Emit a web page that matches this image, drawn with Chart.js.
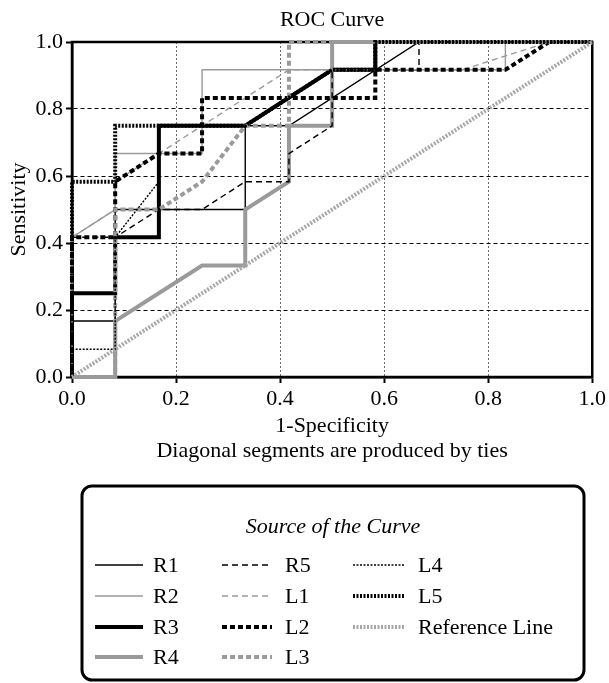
<!DOCTYPE html>
<html>
<head>
<meta charset="utf-8">
<script src="https://cdn.jsdelivr.net/npm/chart.js@4.4.1/dist/chart.umd.min.js"></script>
<style>
  html, body { margin: 0; padding: 0; background: #fff; }
  #roc { display: block; }
</style>
</head>
<body>
<canvas id="roc" width="609" height="683"></canvas>
<script>
// ROC points (1-specificity / sensitivity)
const R1_fpr = [0, 0, 0.083, 0.083, 0.333, 0.333, 0.417, 0.667, 1];
const R1_tpr = [0, 0.167, 0.167, 0.5, 0.5, 0.75, 0.75, 1, 1];
const R2_fpr = [0, 0, 0.083, 0.083, 0.25, 0.25, 0.833, 0.833, 1];
const R2_tpr = [0, 0.417, 0.5, 0.667, 0.667, 0.917, 0.917, 1, 1];
const R3_fpr = [0, 0, 0.083, 0.083, 0.167, 0.167, 0.333, 0.5, 0.583, 0.583, 1];
const R3_tpr = [0, 0.25, 0.25, 0.417, 0.417, 0.75, 0.75, 0.917, 0.917, 1, 1];
const R4_fpr = [0, 0.083, 0.083, 0.25, 0.333, 0.333, 0.417, 0.417, 0.5, 0.5, 1];
const R4_tpr = [0, 0, 0.167, 0.333, 0.333, 0.5, 0.583, 0.75, 0.75, 1, 1];
const R5_fpr = [0, 0, 0.083, 0.167, 0.25, 0.333, 0.417, 0.417, 0.5, 0.5, 0.667, 0.667, 1];
const R5_tpr = [0, 0.417, 0.417, 0.5, 0.5, 0.583, 0.583, 0.667, 0.75, 0.917, 0.917, 1, 1];
const L1_fpr = [0, 0, 0.083, 0.083, 0.417, 0.75, 0.917, 1];
const L1_tpr = [0, 0.417, 0.5, 0.583, 0.917, 0.917, 1, 1];
const L2_fpr = [0, 0, 0.083, 0.083, 0.167, 0.25, 0.25, 0.583, 0.583, 0.833, 0.917, 1];
const L2_tpr = [0, 0.417, 0.417, 0.583, 0.667, 0.667, 0.833, 0.833, 0.917, 0.917, 1, 1];
const L3_fpr = [0, 0.083, 0.083, 0.167, 0.25, 0.333, 0.417, 0.417, 1];
const L3_tpr = [0, 0, 0.5, 0.5, 0.583, 0.75, 0.75, 1, 1];
const L4_fpr = [0, 0, 0.083, 0.083, 0.167, 0.167, 0.333, 0.5, 0.583, 0.583, 1];
const L4_tpr = [0, 0.083, 0.083, 0.417, 0.583, 0.75, 0.75, 0.917, 0.917, 1, 1];
const L5_fpr = [0, 0, 0.083, 0.083, 0.167, 0.333, 0.5, 0.583, 0.583, 1];
const L5_tpr = [0, 0.583, 0.583, 0.75, 0.75, 0.75, 0.917, 0.917, 1, 1];
const REF_fpr = [0, 1];
const REF_tpr = [0, 1];

const FONT = '"Liberation Serif", "Times New Roman", serif';
const GRAY = '#9a9a9a';

function pts(xs, ys) {
  return xs.map(function (x, i) { return { x: x, y: ys[i] }; });
}

function curve(label, xs, ys, color, width, dash) {
  return {
    label: label,
    data: pts(xs, ys),
    borderColor: color,
    borderWidth: width,
    borderDash: dash,
    borderCapStyle: 'butt',
    borderJoinStyle: 'miter',
    pointRadius: 0,
    tension: 0,
    fill: false,
    clip: false
  };
}

let datasets = [
  curve('R1', R1_fpr, R1_tpr, '#000', 1.4, []),
  curve('R2', R2_fpr, R2_tpr, GRAY, 1.4, []),
  curve('R3', R3_fpr, R3_tpr, '#000', 4, []),
  curve('R4', R4_fpr, R4_tpr, GRAY, 4, []),
  curve('R5', R5_fpr, R5_tpr, '#000', 1.4, [6, 4]),
  curve('L1', L1_fpr, L1_tpr, GRAY, 1.4, [6, 4]),
  curve('L2', L2_fpr, L2_tpr, '#000', 4, [5, 3]),
  curve('L3', L3_fpr, L3_tpr, GRAY, 4, [5, 3]),
  curve('L4', L4_fpr, L4_tpr, '#000', 1.4, [2, 1.5]),
  curve('L5', L5_fpr, L5_tpr, '#000', 4, [2, 1.5]),
  curve('Reference Line', REF_fpr, REF_tpr, '#a8a8a8', 4, [2, 1.5])
]
// later curves sit on top
datasets.forEach(function (d, i) { d.order = -i; });

const framePlugin = {
  id: 'frame',
  beforeDatasetsDraw(chart) {
    const a = chart.chartArea, c = chart.ctx;
    c.save();
    c.strokeStyle = '#000';
    c.lineWidth = 2.5;
    c.strokeRect(a.left, a.top, a.right - a.left, a.bottom - a.top);
    c.restore();
  }
};

const textPlugin = {
  id: 'texts',
  afterDraw(chart) {
    const a = chart.chartArea, c = chart.ctx;
    const cx = (a.left + a.right) / 2;
    c.save();
    c.fillStyle = '#000';
    c.textAlign = 'center';
    c.textBaseline = 'middle';
    c.font = '22px ' + FONT;
    c.fillText('ROC Curve', cx, 20);
    c.fillText('1-Specificity', cx, 426);
    c.fillText('Diagonal segments are produced by ties', cx, 451);
    c.save();
    c.translate(19, (a.top + a.bottom) / 2);
    c.rotate(-Math.PI / 2);
    c.fillText('Sensitivity', 0, 0);
    c.restore();

    // legend box
    const bx = 82, by = 486, bw = 502, bh = 194, r = 10;
    c.lineWidth = 3;
    c.strokeStyle = '#000';
    c.beginPath();
    c.moveTo(bx + r, by);
    c.lineTo(bx + bw - r, by);
    c.arcTo(bx + bw, by, bx + bw, by + r, r);
    c.lineTo(bx + bw, by + bh - r);
    c.arcTo(bx + bw, by + bh, bx + bw - r, by + bh, r);
    c.lineTo(bx + r, by + bh);
    c.arcTo(bx, by + bh, bx, by + bh - r, r);
    c.lineTo(bx, by + r);
    c.arcTo(bx, by, bx + r, by, r);
    c.closePath();
    c.stroke();

    c.font = 'italic 22px ' + FONT;
    c.fillText('Source of the Curve', bx + bw / 2, 527);

    const cols = [[95, 143, 153], [222, 272, 285], [353, 405, 418]];
    const rows = [565, 596, 627, 657];
    c.font = '22px ' + FONT;
    c.textAlign = 'left';
    chart.data.datasets.forEach(function (d, i) {
      const col = cols[Math.floor(i / 4)], y = rows[i % 4];
      c.save();
      c.strokeStyle = d.borderColor;
      c.lineWidth = d.borderWidth;
      c.setLineDash(d.borderDash);
      c.beginPath();
      c.moveTo(col[0], y);
      c.lineTo(col[1], y);
      c.stroke();
      c.restore();
      c.fillText(d.label, col[2], y + 1);
    });
    c.restore();
  }
};

const zeroOrOne = function (ctx) {
  const v = ctx.tick ? ctx.tick.value : null;
  return (v === 0 || v === 1) ? 'rgba(0,0,0,0)' : null;
};

new Chart(document.getElementById('roc'), {
  type: 'line',
  data: { datasets: datasets },
  options: {
    responsive: false,
    animation: false,
    layout: { padding: { top: 42, right: 15, bottom: 216, left: 0 } },
    plugins: {
      legend: { display: false },
      tooltip: { enabled: false },
      title: { display: false }
    },
    scales: {
      x: {
        type: 'linear',
        min: 0,
        max: 1,
        ticks: {
          stepSize: 0.2,
          maxRotation: 0,
          padding: 3,
          color: '#000',
          font: { family: FONT, size: 22 },
          callback: function (v) { return v.toFixed(1); }
        },
        grid: {
          color: function (ctx) { return zeroOrOne(ctx) || '#6a6a6a'; },
          lineWidth: 1,
          tickColor: '#000',
          tickWidth: 2,
          tickLength: 6
        },
        border: { display: true, color: '#000', width: 2.5, dash: [2, 2] },
        afterFit: function (s) { s.height = 90; }
      },
      y: {
        type: 'linear',
        min: 0,
        max: 1,
        ticks: {
          stepSize: 0.2,
          padding: 3,
          color: '#000',
          font: { family: FONT, size: 22 },
          callback: function (v) { return v.toFixed(1); }
        },
        grid: {
          color: function (ctx) { return zeroOrOne(ctx) || '#000'; },
          lineWidth: 1,
          tickColor: '#000',
          tickWidth: 2,
          tickLength: 6
        },
        border: { display: true, color: '#000', width: 2.5, dash: [4, 3] },
        afterFit: function (s) { s.width = 72; }
      }
    }
  },
  plugins: [framePlugin, textPlugin]
});
</script>
</body>
</html>
